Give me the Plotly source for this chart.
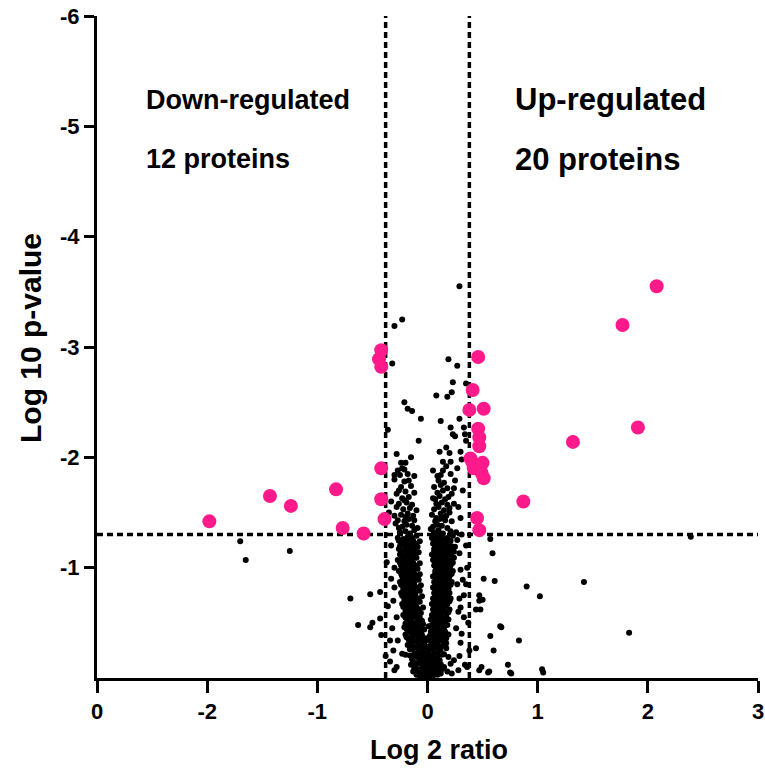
import plotly.graph_objects as go

# ---- data (log2 ratio, log10 p-value shown as negative values) ----
down_x = [-0.42, -0.44, -0.42, -0.42, -0.83, -0.42, -1.24, -0.39, -0.77, -0.58, -1.43, -1.98]
down_y = [-2.97, -2.89, -2.82, -1.90, -1.71, -1.62, -1.56, -1.44, -1.36, -1.31, -1.65, -1.42]

up_x = [0.46, 0.41, 0.38, 0.51, 0.46, 0.47, 0.47, 0.39, 0.41, 0.50, 0.42, 0.49, 0.51, 0.45, 0.47,
        2.08, 1.77, 1.91, 1.32, 0.87]
up_y = [-2.91, -2.61, -2.43, -2.44, -2.26, -2.18, -2.10, -1.99, -1.95, -1.95, -1.90, -1.86, -1.81, -1.45, -1.34,
        -3.55, -3.20, -2.27, -2.14, -1.60]

# non-significant proteins: (log2 ratio, -log10 p)
ns_points = [
    (-0.10,0.03),(-0.07,0.02),(-0.05,0.05),(-0.03,0.01),(-0.02,0.04),(0.00,0.02),(0.01,0.06),(0.03,0.03),
    (0.05,0.02),(0.07,0.05),(0.09,0.03),(-0.08,0.08),(-0.04,0.10),(-0.01,0.09),(0.02,0.11),(0.04,0.08),
    (0.06,0.12),(-0.06,0.13),(-0.02,0.14),(0.00,0.13),(0.03,0.15),(-0.11,0.11),(0.10,0.10),(-0.13,0.06),
    (0.12,0.04),(0.14,0.09),(-0.15,0.12),(0.00,0.07),(-0.01,0.16),(0.01,0.01),
    (-0.14,0.17),(-0.10,0.19),(-0.07,0.16),(-0.04,0.18),(-0.01,0.20),(0.02,0.17),(0.05,0.19),(0.08,0.18),
    (0.11,0.16),(-0.12,0.22),(-0.08,0.24),(-0.05,0.22),(-0.02,0.25),(0.01,0.23),(0.04,0.26),(0.07,0.22),
    (0.10,0.24),(0.13,0.21),(-0.16,0.26),(-0.11,0.28),(-0.06,0.29),(-0.03,0.31),(0.00,0.28),(0.03,0.30),
    (0.06,0.29),(0.09,0.31),(0.12,0.28),(-0.14,0.32),(-0.09,0.33),(0.05,0.34),(0.15,0.33),(-0.18,0.30),
    (0.17,0.27),(-0.20,0.21),(0.19,0.19),(-0.01,0.34),(0.02,0.35),
    (-0.19,0.37),(-0.15,0.36),(-0.12,0.38),(-0.08,0.37),(-0.05,0.39),(-0.02,0.36),(0.02,0.38),(0.05,0.36),
    (0.08,0.39),(0.11,0.37),(0.14,0.38),(0.17,0.36),(-0.17,0.42),(-0.13,0.41),(-0.10,0.43),(-0.06,0.42),
    (-0.03,0.44),(0.03,0.42),(0.06,0.44),(0.09,0.41),(0.12,0.43),(0.16,0.42),(-0.21,0.46),(-0.16,0.47),
    (-0.11,0.48),(-0.07,0.46),(-0.04,0.49),(0.01,0.47),(0.04,0.48),(0.07,0.46),(0.10,0.49),(0.13,0.47),
    (0.18,0.48),(-0.18,0.52),(-0.14,0.51),(-0.09,0.53),(-0.05,0.52),(0.03,0.53),(0.08,0.52),(0.11,0.54),
    (0.15,0.51),(0.19,0.53),
    (-0.22,0.57),(-0.18,0.56),(-0.14,0.58),(-0.10,0.57),(-0.06,0.59),(0.04,0.57),(0.07,0.59),(0.10,0.56),
    (0.13,0.58),(0.17,0.57),(-0.20,0.62),(-0.16,0.61),(-0.12,0.63),(-0.08,0.62),(-0.04,0.64),(0.05,0.62),
    (0.09,0.63),(0.12,0.61),(0.15,0.64),(0.20,0.62),(-0.23,0.67),(-0.19,0.66),(-0.15,0.68),(-0.11,0.67),
    (-0.07,0.69),(0.04,0.67),(0.07,0.68),(0.11,0.66),(0.14,0.69),(0.18,0.67),(-0.21,0.72),(-0.17,0.71),
    (-0.13,0.73),(-0.09,0.72),(-0.05,0.74),(0.05,0.72),(0.08,0.74),(0.12,0.71),(0.16,0.73),(0.21,0.72),
    (-0.24,0.77),(-0.19,0.76),(-0.15,0.78),(-0.11,0.77),(-0.07,0.79),(0.06,0.77),(0.09,0.78),(0.13,0.76),
    (0.17,0.79),(0.20,0.77),
    (-0.22,0.82),(-0.18,0.81),(-0.14,0.83),(-0.10,0.82),(-0.06,0.84),(0.05,0.82),(0.08,0.84),(0.12,0.81),
    (0.15,0.83),(0.19,0.82),(-0.25,0.87),(-0.20,0.86),(-0.16,0.88),(-0.12,0.87),(-0.08,0.89),(0.06,0.87),
    (0.10,0.88),(0.13,0.86),(0.17,0.89),(0.22,0.87),(-0.23,0.92),(-0.19,0.91),(-0.15,0.93),(-0.11,0.92),
    (-0.07,0.94),(0.05,0.92),(0.09,0.93),(0.12,0.91),(0.16,0.94),(0.20,0.92),(-0.26,0.97),(-0.21,0.96),
    (-0.17,0.98),(-0.13,0.97),(-0.09,0.99),(0.07,0.97),(0.10,0.98),(0.14,0.96),(0.18,0.99),(0.23,0.97),
    (-0.24,1.02),(-0.19,1.01),(-0.15,1.03),(-0.11,1.02),(-0.07,1.04),(0.06,1.02),(0.09,1.04),(0.13,1.01),
    (0.17,1.03),(0.21,1.02),
    (-0.27,1.07),(-0.22,1.06),(-0.18,1.08),(-0.14,1.07),(-0.10,1.09),(0.05,1.07),(0.08,1.09),(0.11,1.06),
    (0.15,1.08),(0.19,1.07),(0.24,1.09),(-0.25,1.12),(-0.20,1.11),(-0.16,1.13),(-0.12,1.12),(-0.08,1.14),
    (0.04,1.12),(0.07,1.14),(0.10,1.11),(0.14,1.13),(0.18,1.12),(0.22,1.14),(-0.26,1.17),(-0.21,1.16),
    (-0.17,1.18),(-0.13,1.17),(-0.09,1.19),(0.06,1.17),(0.09,1.19),(0.12,1.16),(0.16,1.18),(0.20,1.17),
    (0.25,1.19),(-0.24,1.22),(-0.19,1.21),(-0.15,1.23),(-0.11,1.22),(-0.07,1.24),(0.05,1.22),(0.08,1.24),
    (0.11,1.21),(0.15,1.23),(0.19,1.22),(-0.27,1.27),(-0.22,1.26),(-0.18,1.28),(-0.14,1.27),(-0.10,1.29),
    (0.04,1.27),(0.07,1.29),(0.10,1.26),(0.13,1.28),(0.18,1.27),(0.23,1.29),
    (-0.25,1.32),(-0.20,1.33),(-0.16,1.31),(-0.12,1.34),(0.06,1.32),(0.10,1.34),(0.14,1.31),(0.21,1.33),
    (0.26,1.32),(-0.23,1.37),(-0.19,1.39),(-0.14,1.38),(-0.09,1.36),(0.05,1.37),(0.09,1.39),(0.13,1.38),
    (0.18,1.36),(-0.27,1.43),(-0.21,1.42),(-0.17,1.44),(-0.12,1.43),(0.07,1.42),(0.11,1.44),(0.16,1.43),
    (0.22,1.42),(-0.24,1.48),(-0.18,1.49),(-0.13,1.47),(0.04,1.48),(0.12,1.49),(0.17,1.47),(-0.22,1.53),
    (-0.16,1.54),(-0.10,1.52),(0.06,1.53),(0.10,1.55),(0.15,1.52),(0.20,1.54),(-0.26,1.58),(-0.19,1.59),
    (-0.14,1.57),(0.08,1.58),(0.13,1.59),(0.18,1.57),
    (-0.23,1.63),(-0.17,1.64),(0.05,1.63),(0.11,1.65),(0.16,1.62),(-0.28,1.67),(-0.20,1.69),(-0.12,1.68),
    (0.09,1.68),(0.14,1.70),(0.22,1.67),(-0.24,1.73),(-0.15,1.74),(0.06,1.73),(0.12,1.75),(0.18,1.72),
    (-0.21,1.78),(-0.30,1.80),(0.10,1.79),(0.15,1.77),(0.25,1.79),(-0.25,1.84),(-0.18,1.85),(0.21,1.85),
    (0.29,3.55),(-0.23,3.25),(-0.30,3.19),(-0.32,2.85),(0.19,2.89),(0.27,2.83),(0.23,2.68),(0.22,2.59),
    (0.08,2.56),(0.18,2.55),(0.35,2.67),(-0.21,2.50),(-0.18,2.44),(-0.14,2.42),(-0.06,2.35),(0.12,2.33),
    (0.21,2.27),(0.23,2.21),(0.25,2.19),(0.33,2.27),(-0.08,2.15),(0.17,2.09),(0.11,2.05),(0.20,2.04),
    (0.14,1.96),(0.21,1.96),(-0.24,1.95),(-0.23,1.90),(-0.21,1.89),(-0.30,1.84),(-0.12,1.83),(0.05,1.88),
    (0.14,1.88),(0.12,1.84),(-0.36,2.25),(0.35,2.15),(0.34,2.21),
    (-0.70,0.72),(-0.52,0.76),(-0.43,0.78),(-0.63,0.48),(-0.50,0.50),(-0.52,0.46),(-0.43,0.54),(-0.42,0.39),
    (-0.34,0.34),(0.59,1.13),(0.57,1.26),(0.51,0.90),(0.61,0.88),(0.90,0.83),(1.02,0.74),(0.47,0.75),
    (0.50,0.71),(0.48,0.62),(0.66,0.47),(0.57,0.38),(0.60,0.25),(0.83,0.34),(0.73,0.12),(0.56,0.06),
    (0.49,0.10),(1.04,0.08),(0.76,0.04),(0.30,0.98),(0.32,0.89),(0.30,0.64),(0.30,0.32),(0.29,1.13),
    (0.27,1.25),(-0.27,0.34),(-0.23,0.22),(0.24,0.16),(0.21,0.13),(0.15,0.10),(-1.70,1.24),(-1.65,1.07),
    (-1.25,1.15),(1.42,0.87),(1.83,0.41),(2.39,1.28),(0.67,0.46),(0.44,0.27),(0.44,0.62),(0.47,0.70),
    (-0.37,1.05),(-0.36,0.65),(-0.38,0.20),(-0.35,1.50),(-0.33,0.90),(0.37,0.50),(0.36,1.00),(0.38,0.25),
    (0.35,1.20),(0.33,0.75),(-0.30,1.00),(-0.28,0.55),(-0.31,0.70),(-0.29,1.40),(-0.33,1.60),(0.28,0.60),
    (0.27,0.85),(0.30,1.45),(0.32,1.70),(0.26,0.45),(0.28,1.55),(-0.30,0.07),(-0.28,0.10),(0.13,0.08),
    (0.18,0.06),(0.22,0.04),(0.28,0.07),(0.36,0.10),(0.47,0.07),(0.55,0.05),(0.75,0.05),(1.05,0.05),
    (-0.09,0.055),(-0.06,0.035),(-0.03,0.065),(0.02,0.045),(0.04,0.055),(0.08,0.075),(-0.12,0.085),(0.11,0.065),
    (-0.13,0.145),(-0.09,0.135),(-0.04,0.155),(0.05,0.145),(0.08,0.135),(0.12,0.125),
    (-0.16,0.205),(-0.13,0.195),(-0.09,0.215),(-0.06,0.205),(-0.03,0.225),(0.03,0.205),(0.06,0.215),
    (0.09,0.205),(0.12,0.235),(0.15,0.215),
    (-0.15,0.275),(-0.13,0.265),(-0.08,0.285),(-0.04,0.265),(0.02,0.275),(0.05,0.265),(0.08,0.275),
    (0.11,0.265),(0.14,0.295),
    (-0.17,0.345),(-0.12,0.335),(-0.07,0.345),(-0.04,0.335),(0.04,0.325),(0.07,0.345),(0.10,0.335),
    (0.13,0.345),(0.17,0.315),
    (-0.20,0.395),(-0.14,0.395),(-0.10,0.405),(-0.06,0.395),(0.04,0.395),(0.07,0.405),(0.10,0.395),
    (0.15,0.405),(0.19,0.395),
    (-0.19,0.445),(-0.15,0.445),(-0.12,0.455),(-0.08,0.445),(0.05,0.455),(0.08,0.445),(0.11,0.455),(0.15,0.445),
    (-0.20,0.495),(-0.17,0.505),(-0.12,0.495),(-0.07,0.505),(0.06,0.505),(0.09,0.495),(0.12,0.505),(0.16,0.495),
    (-0.20,0.545),(-0.16,0.545),(-0.12,0.555),(-0.07,0.545),(0.05,0.545),(0.09,0.555),(0.13,0.545),(0.17,0.555),
    (-0.20,0.595),(-0.16,0.595),(-0.12,0.605),(-0.08,0.595),(0.06,0.595),(0.09,0.605),(0.12,0.595),
    (0.15,0.605),(0.19,0.595),
    (-0.22,0.645),(-0.18,0.645),(-0.14,0.655),(-0.10,0.645),(0.06,0.645),(0.10,0.655),(0.13,0.645),(0.17,0.655),
    (-0.21,0.695),(-0.17,0.695),(-0.13,0.705),(-0.09,0.695),(0.06,0.695),(0.09,0.705),(0.13,0.695),
    (0.16,0.705),(0.20,0.695),
    (-0.23,0.745),(-0.19,0.745),(-0.15,0.755),(-0.11,0.745),(0.07,0.745),(0.10,0.755),(0.14,0.745),(0.18,0.755),
    (-0.22,0.795),(-0.17,0.795),(-0.13,0.805),(-0.09,0.795),(0.07,0.795),(0.11,0.805),(0.14,0.795),(0.19,0.805),
    (-0.24,0.845),(-0.20,0.845),(-0.16,0.855),(-0.12,0.845),(0.07,0.845),(0.10,0.855),(0.14,0.845),
    (0.18,0.855),(0.21,0.845),
    (-0.22,0.895),(-0.18,0.895),(-0.13,0.905),(-0.09,0.895),(0.08,0.895),(0.11,0.905),(0.15,0.895),(0.19,0.905),
    (-0.24,0.945),(-0.20,0.945),(-0.16,0.955),(-0.12,0.945),(0.07,0.945),(0.11,0.955),(0.14,0.945),
    (0.18,0.955),(0.22,0.945),
    (-0.23,0.995),(-0.18,0.995),(-0.14,1.005),(-0.10,0.995),(0.08,0.995),(0.12,1.005),(0.16,0.995),(0.20,1.005),
    (-0.25,1.045),(-0.21,1.045),(-0.17,1.055),(-0.13,1.045),(0.07,1.045),(0.11,1.055),(0.15,1.045),
    (0.19,1.055),(0.23,1.045),
    (-0.23,1.095),(-0.19,1.095),(-0.15,1.105),(-0.11,1.095),(0.06,1.095),(0.10,1.105),(0.13,1.095),
    (0.17,1.105),(0.21,1.095),
    (-0.24,1.145),(-0.19,1.145),(-0.15,1.155),(-0.11,1.145),(0.06,1.145),(0.09,1.155),(0.13,1.145),
    (0.17,1.155),(0.24,1.145),
    (-0.25,1.195),(-0.20,1.195),(-0.16,1.205),(-0.12,1.195),(0.07,1.195),(0.10,1.205),(0.14,1.195),
    (0.18,1.205),(0.22,1.195),
    (-0.26,1.245),(-0.21,1.245),(-0.17,1.255),(-0.13,1.245),(0.06,1.245),(0.09,1.255),(0.13,1.245),
    (0.17,1.255),(0.21,1.245),
    (-0.26,1.36),(-0.30,1.47),(-0.20,1.46),(-0.28,1.55),(-0.21,1.61),(-0.26,1.70),(-0.17,1.79),(-0.27,1.88),
    (-0.20,1.95),(-0.15,2.00),(-0.28,2.03),(0.03,1.35),(0.08,1.45),(0.14,1.46),(0.20,1.50),(0.24,1.58),
    (0.07,1.62),(0.19,1.64),(0.24,1.72),(0.09,1.83),(0.17,1.92),(0.27,1.90),(0.30,2.05),(0.31,1.98),
    (0.29,2.35),(-0.33,1.20),(-0.32,0.45),(-0.34,0.15),(-0.31,0.25),(-0.30,0.82),(0.31,0.40),(0.29,0.20),
    (0.33,0.55),(0.35,0.85),(0.31,1.30),(0.34,0.12),(0.29,0.72),
]

x_tickvals = [-3, -2, -1, 0, 1, 2, 3]
x_ticktext = ["0", "-2", "-1", "0", "1", "2", "3"]
y_tickvals = [-1, -2, -3, -4, -5, -6]
y_ticktext = ["-1", "-2", "-3", "-4", "-5", "-6"]

fc_threshold = 0.38   # log2 ratio cut-off
p_threshold = -1.3    # log10 p-value cut-off

# text, x, y, font size
labels = [
    ("Down-regulated", -2.57, -5.24, 27),
    ("12 proteins", -2.57, -4.70, 27),
    ("Up-regulated", 0.78, -5.24, 31),
    ("20 proteins", 0.78, -4.70, 31),
]

# ---- figure ----
FONT = "Liberation Sans, Arial, sans-serif"
ns_x = [p[0] for p in ns_points]
ns_y = [-p[1] for p in ns_points]

fig = go.Figure()
fig.add_trace(go.Scatter(x=ns_x, y=ns_y, mode="markers",
                         marker=dict(color="black", size=6, line=dict(width=0)),
                         showlegend=False, hoverinfo="skip"))
fig.add_trace(go.Scatter(x=down_x, y=down_y, mode="markers",
                         marker=dict(color="#ff1a8c", size=14, line=dict(width=0)),
                         showlegend=False))
fig.add_trace(go.Scatter(x=up_x, y=up_y, mode="markers",
                         marker=dict(color="#ff1a8c", size=14, line=dict(width=0)),
                         showlegend=False))

dash_line = dict(color="black", width=3.5, dash="6px,4px")
fig.add_shape(type="line", x0=-fc_threshold, x1=-fc_threshold, y0=0, y1=-6,
              xref="x", yref="y", line=dash_line, layer="below")
fig.add_shape(type="line", x0=fc_threshold, x1=fc_threshold, y0=0, y1=-6,
              xref="x", yref="y", line=dash_line, layer="below")
fig.add_shape(type="line", x0=-3, x1=3, y0=p_threshold, y1=p_threshold,
              xref="x", yref="y", line=dash_line, layer="below")

for text, ax, ay, fs in labels:
    fig.add_annotation(x=ax, y=ay, text=text, showarrow=False, xanchor="left", yanchor="middle",
                       font=dict(family=FONT, size=fs, color="black", weight="bold"))

# axis titles (placed as in the reference)
fig.add_annotation(x=0.517, y=0, xref="paper", yref="paper", yshift=-72, text="Log 2 ratio",
                   showarrow=False, xanchor="center", yanchor="middle",
                   font=dict(family=FONT, size=27, color="black", weight="bold"))
fig.add_annotation(x=0, y=0.5, xref="paper", yref="paper", xshift=-67, yshift=9,
                   text="Log 10 p-value", textangle=-90,
                   showarrow=False, xanchor="center", yanchor="middle",
                   font=dict(family=FONT, size=30, color="black", weight="bold"))

fig.update_layout(
    width=765, height=771,
    margin=dict(l=97, r=7, t=16, b=93, autoexpand=False),
    plot_bgcolor="white", paper_bgcolor="white",
    font=dict(family=FONT, color="black", weight="bold"),
    xaxis=dict(range=[-3, 3], tickvals=x_tickvals, ticktext=x_ticktext, automargin=False,
               ticklabeloverflow="allow",
               showgrid=False, zeroline=False, showline=True, linecolor="black", linewidth=3,
               ticks="outside", ticklen=12, tickwidth=3, tickcolor="black",
               tickfont=dict(family=FONT, size=22, color="black", weight="bold")),
    yaxis=dict(range=[0, -6], tickvals=y_tickvals, ticktext=y_ticktext, automargin=False,
               ticklabeloverflow="allow",
               showgrid=False, zeroline=False, showline=True, linecolor="black", linewidth=3,
               ticks="outside", ticklen=10, tickwidth=3, tickcolor="black",
               tickfont=dict(family=FONT, size=22, color="black", weight="bold")),
)

fig.write_html("out.html", config={"displayModeBar": False},
               post_script="document.body.style.margin='0';")
